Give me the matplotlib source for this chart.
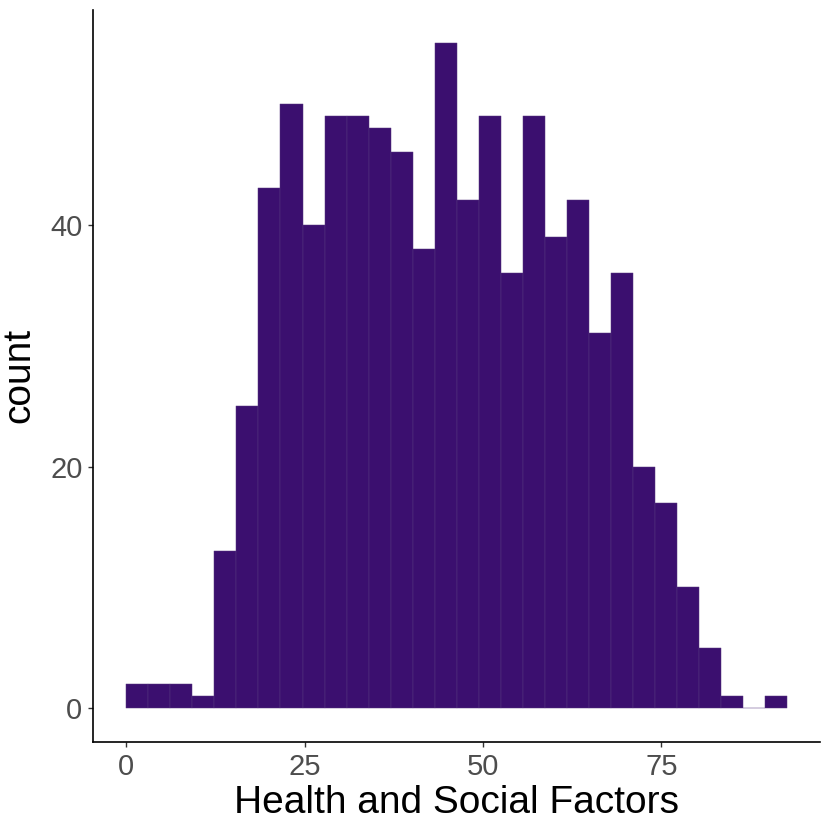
import numpy as np
import matplotlib
matplotlib.use("Agg")
import matplotlib.pyplot as plt

# Data
counts = [2, 2, 2, 1, 13, 25, 43, 50, 40, 49, 49, 48, 46, 38, 55,
          42, 49, 36, 49, 39, 42, 31, 36, 20, 17, 10, 5, 1, 0, 1]
bin_start = 0.0
bin_width = 3.087
x_ticks = [0, 25, 50, 75]
y_ticks = [0, 20, 40]
x_label = "Health and Social Factors"
y_label = "count"

plt.rcParams['font.family'] = ['Liberation Sans', 'DejaVu Sans']

fig = plt.figure(figsize=(8.3, 8.3), dpi=100)
ax = fig.add_axes([0.1124, 0.1064, 0.988 - 0.1124, 0.988 - 0.1064])

edges = bin_start + bin_width * np.arange(len(counts))
ax.bar(edges, counts, width=bin_width, align='edge',
       color='#3B0F6F', edgecolor='#55357F', linewidth=0.35)

xmax = bin_start + bin_width * len(counts)
xr = xmax - bin_start
ax.set_xlim(bin_start - 0.05 * xr, xmax + 0.05 * xr)
ymax = max(counts)
ax.set_ylim(-0.05 * ymax, ymax * 1.05)

ax.set_xticks(x_ticks)
ax.set_yticks(y_ticks)
ax.tick_params(axis='both', labelsize=21, labelcolor='#4D4D4D', color='#333333',
               length=3.8, width=1.0, pad=4)
for s in ['top', 'right']:
    ax.spines[s].set_visible(False)
for s in ['left', 'bottom']:
    ax.spines[s].set_linewidth(1.2)
    ax.spines[s].set_color('black')

ax.set_xlabel(x_label, fontsize=28, color='black', labelpad=3)
ax.set_ylabel(y_label, fontsize=28, color='black', labelpad=9)

fig.savefig("out.png", dpi=100)
